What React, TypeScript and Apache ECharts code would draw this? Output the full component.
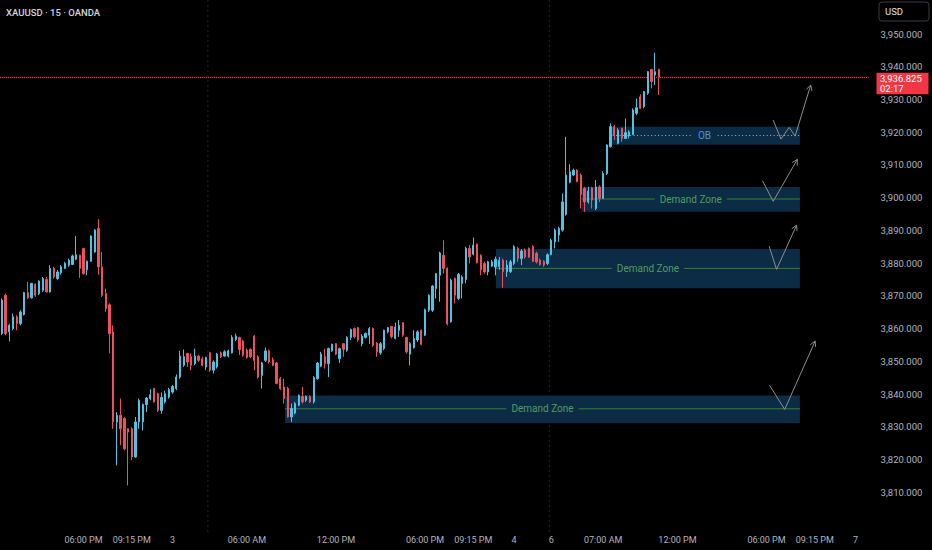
import React, { useEffect, useRef } from "react";
import * as echarts from "echarts";

const TITLE = "XAUUSD · 15 · OANDA";
const CURRENCY = "USD";
const LAST_PRICE = 3936.825;
const COUNTDOWN = "02:17";

// 15-minute slots (local time), first slot 2 Oct 12:30
const SESSION_START = { day: 2, minute: 12 * 60 + 30 };
const SLOT_COUNT = 234;
const DAILY_BREAK = [150, 210]; // 02:30 - 03:30
const WEEKEND = { fromDay: 4, fromMinute: 150, toDay: 6, toMinute: 210 };

const TICK_LABELS: [string, string][] = [
  ["10-02 18:00", "06:00 PM"],
  ["10-02 21:15", "09:15 PM"],
  ["10-03 00:00", "3"],
  ["10-03 06:00", "06:00 AM"],
  ["10-03 12:00", "12:00 PM"],
  ["10-03 18:00", "06:00 PM"],
  ["10-03 21:15", "09:15 PM"],
  ["10-04 00:00", "4"],
  ["10-06 03:30", "6"],
  ["10-06 07:00", "07:00 AM"],
  ["10-06 12:00", "12:00 PM"],
  ["10-06 18:00", "06:00 PM"],
  ["10-06 21:15", "09:15 PM"],
  ["10-07 00:00", "7"],
];

// [open, close, low, high]
const CANDLES: number[][] = [
  [3858.5, 3868.7, 3858.0, 3869.2], [3870.2, 3858.5, 3858.0, 3870.7], [3859.0, 3861.0, 3856.1, 3861.5],
  [3860.0, 3863.6, 3859.5, 3864.6], [3863.6, 3861.5, 3859.5, 3864.1], [3861.5, 3865.1, 3861.0, 3865.6],
  [3864.3, 3871.0, 3864.0, 3871.2], [3871.0, 3869.4, 3869.0, 3874.3], [3869.4, 3873.8, 3869.2, 3874.0],
  [3873.5, 3870.2, 3869.7, 3873.8], [3870.7, 3874.5, 3870.2, 3874.8], [3871.7, 3875.3, 3871.2, 3875.8],
  [3875.0, 3871.2, 3871.0, 3875.8], [3871.2, 3878.4, 3871.0, 3879.4], [3878.4, 3875.8, 3875.3, 3878.9],
  [3875.3, 3877.3, 3874.8, 3877.9], [3877.1, 3878.9, 3876.5, 3879.4], [3878.4, 3879.9, 3878.2, 3880.4],
  [3879.4, 3880.9, 3878.9, 3881.4], [3879.6, 3882.2, 3879.4, 3882.6], [3881.2, 3882.6, 3880.9, 3888.3],
  [3882.4, 3878.4, 3875.5, 3882.6], [3884.5, 3876.8, 3876.5, 3884.7], [3878.0, 3880.6, 3876.3, 3880.8],
  [3880.6, 3888.3, 3880.4, 3888.5], [3883.4, 3890.1, 3883.2, 3890.4], [3890.6, 3878.9, 3876.5, 3893.4],
  [3878.9, 3870.2, 3869.7, 3883.4], [3870.7, 3866.1, 3865.1, 3872.2], [3867.3, 3858.5, 3852.4, 3867.7],
  [3859.0, 3831.5, 3829.4, 3861.0], [3831.5, 3833.5, 3818.2, 3834.5], [3833.5, 3829.4, 3824.4, 3838.6],
  [3832.5, 3823.3, 3822.8, 3833.0], [3829.4, 3828.4, 3812.1, 3829.6], [3829.4, 3820.8, 3819.8, 3829.9],
  [3820.8, 3831.5, 3820.5, 3833.0], [3831.5, 3838.1, 3829.4, 3838.6], [3831.5, 3836.8, 3828.9, 3837.1],
  [3836.8, 3838.8, 3834.5, 3839.1], [3838.6, 3839.8, 3838.1, 3841.5], [3841.7, 3837.6, 3837.4, 3841.9],
  [3840.1, 3835.0, 3834.5, 3840.4], [3835.0, 3839.0, 3834.0, 3840.5], [3837.6, 3840.1, 3837.1, 3841.0],
  [3839.1, 3841.4, 3838.6, 3841.9], [3840.6, 3842.3, 3840.1, 3842.8], [3841.7, 3845.2, 3841.2, 3846.0],
  [3845.2, 3851.6, 3844.7, 3853.2], [3848.8, 3851.4, 3848.3, 3853.6], [3852.4, 3849.8, 3848.3, 3852.6],
  [3851.4, 3848.8, 3847.3, 3852.4], [3849.3, 3851.6, 3848.8, 3853.9], [3851.6, 3850.3, 3849.8, 3851.9],
  [3850.8, 3848.8, 3848.5, 3851.4], [3848.3, 3851.2, 3847.3, 3851.4], [3852.6, 3847.3, 3846.8, 3852.9],
  [3847.3, 3849.8, 3846.3, 3850.3], [3848.3, 3852.2, 3847.8, 3852.6], [3852.6, 3851.4, 3851.0, 3853.0],
  [3851.6, 3852.9, 3851.4, 3853.4], [3851.6, 3853.2, 3851.2, 3853.6], [3852.6, 3857.3, 3852.4, 3858.0],
  [3856.7, 3857.7, 3856.2, 3858.5], [3857.3, 3853.6, 3851.9, 3857.5], [3856.2, 3851.9, 3851.4, 3856.5],
  [3853.4, 3851.2, 3850.8, 3853.9], [3853.6, 3851.4, 3851.0, 3854.0], [3857.7, 3850.3, 3847.3, 3858.0],
  [3851.4, 3845.2, 3844.7, 3851.9], [3845.7, 3849.5, 3841.7, 3849.8], [3850.3, 3853.2, 3849.8, 3854.2],
  [3853.2, 3849.8, 3849.3, 3853.6], [3850.5, 3848.8, 3848.5, 3851.2], [3849.5, 3843.2, 3843.0, 3849.8],
  [3844.7, 3841.7, 3841.2, 3845.2], [3842.2, 3838.6, 3837.1, 3844.7], [3841.7, 3833.0, 3832.8, 3842.2],
  [3833.0, 3835.6, 3831.5, 3837.1], [3834.2, 3837.1, 3833.8, 3837.6], [3836.6, 3839.6, 3836.3, 3839.9],
  [3839.3, 3837.6, 3837.1, 3842.2], [3838.1, 3839.3, 3837.6, 3839.6], [3839.3, 3837.6, 3837.3, 3839.6],
  [3837.6, 3845.0, 3837.1, 3845.5], [3844.7, 3849.5, 3844.4, 3849.8], [3848.5, 3852.2, 3848.3, 3852.9],
  [3851.5, 3849.3, 3847.8, 3853.9], [3849.3, 3853.9, 3845.2, 3854.2], [3853.2, 3855.2, 3852.9, 3855.4],
  [3855.4, 3852.2, 3851.9, 3855.6], [3850.8, 3853.9, 3849.5, 3854.2], [3855.4, 3853.6, 3851.4, 3855.6],
  [3853.4, 3857.3, 3852.9, 3857.7], [3857.3, 3859.7, 3856.5, 3860.0], [3860.0, 3857.5, 3857.0, 3860.3],
  [3860.3, 3856.5, 3856.0, 3860.5], [3855.4, 3857.7, 3854.6, 3858.3], [3857.3, 3858.5, 3857.0, 3858.8],
  [3858.0, 3860.0, 3855.4, 3860.5], [3860.0, 3854.9, 3854.4, 3860.3], [3855.6, 3852.9, 3851.4, 3855.9],
  [3852.6, 3855.4, 3852.0, 3855.9], [3853.9, 3859.5, 3853.4, 3859.7], [3859.0, 3860.3, 3858.5, 3860.5],
  [3860.7, 3857.5, 3857.0, 3860.8], [3857.0, 3860.5, 3856.7, 3861.8], [3859.5, 3861.0, 3857.5, 3862.6],
  [3861.8, 3858.0, 3857.5, 3862.0], [3857.3, 3852.9, 3852.4, 3857.5], [3852.2, 3855.4, 3848.8, 3855.9],
  [3854.2, 3856.9, 3853.9, 3859.5], [3856.5, 3859.0, 3855.9, 3859.5], [3859.5, 3855.2, 3854.9, 3859.7],
  [3858.0, 3865.8, 3857.7, 3866.1], [3865.6, 3870.2, 3865.1, 3870.5], [3865.6, 3873.0, 3865.1, 3873.3],
  [3872.2, 3876.8, 3869.2, 3877.0], [3876.3, 3883.1, 3868.2, 3883.5], [3882.4, 3878.4, 3876.8, 3887.0],
  [3878.4, 3861.5, 3861.0, 3878.7], [3862.1, 3874.8, 3861.8, 3875.3], [3875.3, 3870.2, 3867.7, 3875.6],
  [3869.2, 3876.6, 3868.7, 3877.0], [3873.8, 3875.8, 3869.2, 3876.3], [3875.0, 3884.5, 3873.8, 3885.0],
  [3884.5, 3881.9, 3879.9, 3885.5], [3882.7, 3885.5, 3882.4, 3887.8], [3885.8, 3880.1, 3879.9, 3886.0],
  [3882.4, 3878.0, 3876.3, 3882.7], [3879.9, 3877.3, 3876.8, 3880.4], [3877.3, 3880.4, 3876.3, 3880.7],
  [3879.1, 3880.4, 3878.8, 3881.0], [3878.8, 3881.2, 3876.3, 3882.0], [3878.9, 3880.9, 3878.0, 3881.9],
  [3880.9, 3877.4, 3872.5, 3881.4], [3877.4, 3879.4, 3875.8, 3880.9], [3877.4, 3880.4, 3877.0, 3881.0],
  [3879.9, 3885.0, 3879.4, 3885.5], [3884.5, 3881.4, 3880.4, 3885.0], [3881.4, 3883.7, 3879.4, 3884.3],
  [3884.0, 3881.9, 3881.4, 3884.5], [3884.5, 3881.9, 3881.6, 3884.8], [3885.0, 3880.6, 3880.4, 3885.5],
  [3883.0, 3880.4, 3879.9, 3883.5], [3880.9, 3879.6, 3879.2, 3881.4], [3880.6, 3879.4, 3878.9, 3880.9],
  [3879.9, 3882.6, 3879.4, 3883.0], [3882.6, 3887.0, 3882.4, 3887.5], [3886.5, 3890.1, 3884.5, 3890.6],
  [3888.6, 3890.6, 3886.5, 3891.1], [3890.1, 3898.7, 3889.6, 3901.3], [3894.9, 3906.9, 3894.5, 3918.6],
  [3904.7, 3907.9, 3904.4, 3910.2], [3906.9, 3908.4, 3906.7, 3908.9], [3908.4, 3904.9, 3904.7, 3908.7],
  [3906.9, 3901.0, 3896.7, 3907.4], [3902.8, 3898.7, 3895.7, 3903.3], [3898.7, 3902.0, 3898.2, 3903.3],
  [3903.0, 3899.3, 3896.7, 3903.3], [3896.7, 3903.3, 3896.2, 3905.4], [3903.3, 3899.8, 3898.7, 3903.8],
  [3899.8, 3907.4, 3899.6, 3908.1], [3907.4, 3916.1, 3906.9, 3916.3], [3915.6, 3921.7, 3915.3, 3922.7],
  [3921.7, 3919.1, 3917.6, 3922.2], [3916.6, 3920.6, 3916.3, 3921.2], [3921.2, 3918.1, 3917.1, 3921.4],
  [3918.1, 3919.9, 3917.9, 3924.2], [3918.9, 3920.1, 3918.1, 3920.6], [3919.3, 3926.8, 3919.1, 3927.3],
  [3925.8, 3927.5, 3925.2, 3930.3], [3930.8, 3927.3, 3927.1, 3931.6], [3927.8, 3932.4, 3927.3, 3932.6],
  [3931.9, 3938.5, 3931.4, 3938.7], [3939.2, 3935.5, 3933.4, 3939.3], [3937.5, 3938.5, 3934.4, 3944.3],
  [3939.2, 3936.825, 3931.4, 3939.3],
];

// zones: [start slot, end slot, low, high, mid]
const ZONES: number[][] = [
  [163.6, 215.0, 3916.2, 3921.7, 3919.0],
  [156.2, 215.0, 3895.7, 3903.3, 3899.6],
  [133.1, 215.0, 3872.3, 3884.3, 3878.4],
  [76.3, 215.0, 3831.2, 3839.6, 3835.5],
];
const ZONE_LABELS = ["OB", "Demand Zone", "Demand Zone", "Demand Zone"];

// projected paths: [slot, price]
const ARROWS: number[][][] = [
  [[207.8, 3923.7], [209.9, 3917.9], [212.1, 3921.5], [213.7, 3918.8], [217.9, 3934.4]],
  [[204.9, 3905.2], [207.8, 3898.9], [214.3, 3911.7]],
  [[206.7, 3885.2], [208.7, 3878.1], [214.1, 3891.6]],
  [[206.8, 3842.7], [210.9, 3835.3], [219.1, 3856.2]],
];

const SESSION_BREAKS = [55.5, 147.5];

const UP = "#4fc3e3";
const DOWN = "#f0505e";
const PRICE_RED = "#f23645";
const ZONE_FILL = "#0c2b44";
const GREEN_TEXT = "#4f9d63";
const GREEN_LINE = "#33803f";
const OB_TEXT = "#5b8fd4";
const OB_LINE = "#8fb3d9";
const AXIS_TEXT = "#b2b5be";
const FONT = "Roboto, 'Noto Sans', sans-serif";

function pad(n: number) {
  return String(n).padStart(2, "0");
}

function buildSlots(): string[] {
  const slots: string[] = [];
  let day = SESSION_START.day;
  let minute = SESSION_START.minute;
  while (slots.length < SLOT_COUNT) {
    const inBreak = minute >= DAILY_BREAK[0] && minute < DAILY_BREAK[1];
    const afterStart = day > WEEKEND.fromDay || (day === WEEKEND.fromDay && minute >= WEEKEND.fromMinute);
    const beforeEnd = day < WEEKEND.toDay || (day === WEEKEND.toDay && minute < WEEKEND.toMinute);
    if (!inBreak && !(afterStart && beforeEnd)) {
      slots.push(`10-${pad(day)} ${pad(Math.floor(minute / 60))}:${pad(minute % 60)}`);
    }
    minute += 15;
    if (minute >= 1440) {
      minute -= 1440;
      day += 1;
    }
  }
  return slots;
}

function fmtPrice(v: number) {
  return v.toLocaleString("en-US", { minimumFractionDigits: 3, maximumFractionDigits: 3 });
}

function baseGraphics(): any[] {
  return [
    {
      id: "title",
      type: "text",
      left: 6,
      top: 7,
      style: { text: TITLE, fill: "#d1d4dc", fontSize: 9.5, fontWeight: 500, fontFamily: FONT },
      z: 100,
    },
    {
      id: "usdBox",
      type: "rect",
      shape: { x: 879, y: 2, width: 50, height: 19, r: 3 },
      style: { fill: "#000000", stroke: "#3a3d45", lineWidth: 1 },
      z: 100,
    },
    {
      id: "usdText",
      type: "text",
      x: 885,
      y: 11.5,
      style: { text: CURRENCY, fill: "#e0e3eb", fontSize: 9.5, fontFamily: FONT, verticalAlign: "middle" },
      z: 101,
    },
  ];
}

export default function App() {
  const ref = useRef<HTMLDivElement>(null);

  useEffect(() => {
    if (!ref.current) return;
    const chart = echarts.init(ref.current, null, { renderer: "svg" });
    const slots = buildSlots();
    const labelMap = new Map<string, string>(TICK_LABELS);

    const option: any = {
      animation: false,
      backgroundColor: "#000000",
      textStyle: { fontFamily: FONT },
      grid: { left: 0, right: 63.4, top: 0, bottom: 25, containLabel: false, outerBoundsMode: "none" },
      xAxis: [
        {
          type: "category",
          data: slots,
          boundaryGap: true,
          axisLine: { show: false },
          axisTick: { show: false },
          splitLine: { show: false },
          axisLabel: {
            interval: (_i: number, v: string) => labelMap.has(v),
            formatter: (v: string) => labelMap.get(v) ?? "",
            color: AXIS_TEXT,
            fontSize: 9,
            margin: 10,
            fontFamily: FONT,
          },
        },
        { type: "value", min: -0.5, max: SLOT_COUNT - 0.5, show: false },
      ],
      yAxis: {
        type: "value",
        position: "right",
        min: 3800,
        max: 3960.4,
        interval: 10,
        axisLine: { show: false },
        axisTick: { show: false },
        splitLine: { show: false },
        axisLabel: {
          color: AXIS_TEXT,
          fontSize: 9.5,
          margin: 12,
          fontFamily: FONT,
          formatter: (v: number) => (v < 3805 || v > 3955 ? "" : fmtPrice(v)),
        },
      },
      graphic: baseGraphics(),
      series: [
        {
          type: "custom",
          name: "sessionBreaks",
          xAxisIndex: 1,
          yAxisIndex: 0,
          z: 1,
          silent: true,
          data: SESSION_BREAKS.map((b) => [b, 3880]),
          renderItem: (params: any, api: any) => {
            const x = api.coord([api.value(0), 3880])[0];
            const cs = params.coordSys;
            return {
              type: "line",
              shape: { x1: x, y1: cs.y, x2: x, y2: cs.y + cs.height + 8 },
              style: { stroke: "#262626", lineWidth: 1, lineDash: [2, 3] },
            };
          },
        },
        {
          type: "custom",
          name: "zones",
          xAxisIndex: 1,
          yAxisIndex: 0,
          z: 2,
          silent: true,
          data: ZONES,
          renderItem: (params: any, api: any) => {
            const z = ZONES[params.dataIndex];
            const label = ZONE_LABELS[params.dataIndex];
            const isOB = label === "OB";
            const tl = api.coord([z[0], z[3]]);
            const br = api.coord([z[1], z[2]]);
            const ml = api.coord([z[0], z[4]]);
            const mr = api.coord([z[1], z[4]]);
            return {
              type: "group",
              children: [
                {
                  type: "rect",
                  shape: { x: tl[0], y: tl[1], width: br[0] - tl[0], height: br[1] - tl[1] },
                  style: { fill: ZONE_FILL },
                },
                {
                  type: "line",
                  shape: { x1: ml[0], y1: ml[1], x2: mr[0], y2: mr[1] },
                  style: {
                    stroke: isOB ? OB_LINE : GREEN_LINE,
                    lineWidth: 1,
                    lineDash: isOB ? [1, 2.5] : null,
                  },
                },
                {
                  type: "text",
                  x: (ml[0] + mr[0]) / 2,
                  y: ml[1],
                  style: {
                    text: label,
                    fill: isOB ? OB_TEXT : GREEN_TEXT,
                    fontSize: 10,
                    fontFamily: FONT,
                    align: "center",
                    verticalAlign: "middle",
                    backgroundColor: ZONE_FILL,
                    padding: [1, 5, 1, 5],
                  },
                },
              ],
            };
          },
        },
        {
          type: "custom",
          name: "projections",
          xAxisIndex: 1,
          yAxisIndex: 0,
          z: 3,
          silent: true,
          data: ARROWS.map((a) => a[a.length - 1]),
          renderItem: (params: any, api: any) => {
            const pts = ARROWS[params.dataIndex].map((p) => api.coord(p));
            const tip = pts[pts.length - 1];
            const prev = pts[pts.length - 2];
            const ang = Math.atan2(prev[1] - tip[1], prev[0] - tip[0]);
            const len = 6;
            const head = [ang - 0.5, ang + 0.5].map((a) => [tip[0] + len * Math.cos(a), tip[1] + len * Math.sin(a)]);
            const st = { stroke: "#8e8e8e", lineWidth: 1, fill: null };
            return {
              type: "group",
              children: [
                { type: "polyline", shape: { points: pts }, style: st },
                { type: "polyline", shape: { points: [head[0], tip, head[1]] }, style: st },
              ],
            };
          },
        },
        {
          type: "candlestick",
          name: "XAUUSD",
          xAxisIndex: 0,
          yAxisIndex: 0,
          z: 5,
          barWidth: 1.8,
          data: CANDLES,
          itemStyle: {
            color: UP,
            color0: DOWN,
            borderColor: UP,
            borderColor0: DOWN,
            borderWidth: 1,
          },
          markLine: {
            silent: true,
            symbol: ["none", "none"],
            lineStyle: { color: PRICE_RED, type: "dotted", width: 1 },
            label: { show: false },
            data: [{ yAxis: LAST_PRICE }],
          },
        },
      ],
    };

    chart.setOption(option);

    // last-price tag placed through the price scale
    const py = chart.convertToPixel({ yAxisIndex: 0 }, LAST_PRICE) as number;
    const boxTop = py - 4.5;
    chart.setOption({
      graphic: [
        ...baseGraphics(),
        {
          id: "priceBox",
          type: "rect",
          shape: { x: 876.5, y: boxTop, width: 52, height: 21.5 },
          style: { fill: PRICE_RED },
          z: 100,
        },
        {
          id: "priceText",
          type: "text",
          x: 880,
          y: boxTop + 5.5,
          style: { text: fmtPrice(LAST_PRICE), fill: "#ffffff", fontSize: 9.5, fontFamily: FONT, verticalAlign: "middle" },
          z: 101,
        },
        {
          id: "countdownText",
          type: "text",
          x: 880,
          y: boxTop + 15.5,
          style: { text: COUNTDOWN, fill: "#ffffff", fontSize: 9.5, fontFamily: FONT, verticalAlign: "middle" },
          z: 101,
        },
      ],
    });

    return () => chart.dispose();
  }, []);

  return (
    <div
      ref={ref}
      style={{ position: "fixed", left: 0, top: 0, width: 932, height: 550, background: "#000" }}
    />
  );
}
